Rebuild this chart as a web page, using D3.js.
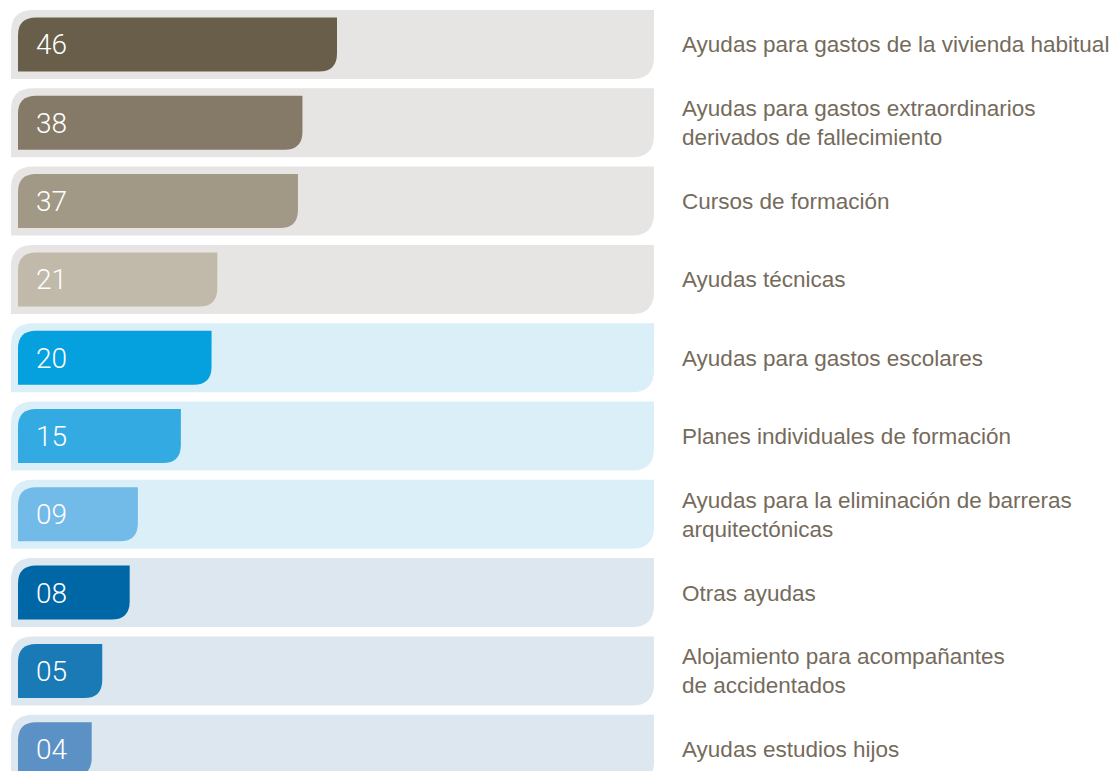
<!DOCTYPE html>
<html>
<head>
<meta charset="utf-8">
<script src="https://cdn.jsdelivr.net/npm/d3@7"></script>
<style>
  html, body { margin: 0; padding: 0; background: #fff; }
  svg { display: block; }
</style>
</head>
<body>
<div id="chart"></div>
<script>
const WIDTH = 1117;
const HEIGHT = 771;

// data
const categories = [
  'Ayudas para gastos de la vivienda habitual',
  'Ayudas para gastos extraordinarios\nderivados de fallecimiento',
  'Cursos de formación',
  'Ayudas técnicas',
  'Ayudas para gastos escolares',
  'Planes individuales de formación',
  'Ayudas para la eliminación de barreras\narquitectónicas',
  'Otras ayudas',
  'Alojamiento para acompañantes\nde accidentados',
  'Ayudas estudios hijos'
];
const values = [46, 38, 37, 21, 20, 15, 9, 8, 5, 4];
const valueLabels = ['46', '38', '37', '21', '20', '15', '09', '08', '05', '04'];
const barColors = ['#685e4a', '#857a68', '#a19886', '#c1b9aa', '#05a0de', '#33abe2', '#72bae8', '#0067a6', '#1a7ab6', '#5b91c4'];
const trackColors = ['#e7e5e3', '#e7e5e3', '#e7e5e3', '#e7e5e3', '#dbeff9', '#dbeff9', '#dbeff9', '#dce7f0', '#dce7f0', '#dce7f0'];

const TRACK_LEFT = 11;
const TRACK_RIGHT = 654;
const BAR_LEFT = 18;
const BAR_INSET = 7.5;
const TRACK_R = 22;
const BAR_R = 18;

const rows = categories.map((c, i) => ({
  category: c,
  value: values[i],
  label: valueLabels[i],
  bar: barColors[i],
  track: trackColors[i]
}));

const yScale = d3.scaleBand()
  .domain(categories)
  .range([10, 783.7])
  .paddingInner(0.119)
  .paddingOuter(0);

// bar lengths in the source are not proportional, a power scale follows them best
const xScale = d3.scalePow()
  .exponent(0.6)
  .domain([0, d3.max(values)])
  .range([0, 319]);

// rectangle with top-left and bottom-right corners rounded
const leafPath = (x, y, w, h, r) => {
  r = Math.min(r, w, h / 2);
  return `M${x},${y + r}`
    + `Q${x},${y} ${x + r},${y}`
    + `H${x + w}`
    + `V${y + h - r}`
    + `Q${x + w},${y + h} ${x + w - r},${y + h}`
    + `H${x}Z`;
};

const svg = d3.select('#chart').append('svg')
  .attr('width', WIDTH)
  .attr('height', HEIGHT);

const row = svg.append('g').attr('id', 'rows')
  .selectAll('g')
  .data(rows)
  .enter()
  .append('g')
  .attr('transform', d => `translate(0,${yScale(d.category)})`);

const bh = yScale.bandwidth();

row.append('path')
  .attr('d', () => leafPath(TRACK_LEFT, 0, TRACK_RIGHT - TRACK_LEFT, bh, TRACK_R))
  .attr('fill', d => d.track);

row.append('path')
  .attr('d', d => leafPath(BAR_LEFT, BAR_INSET, xScale(d.value), bh - 2 * BAR_INSET, BAR_R))
  .attr('fill', d => d.bar);

row.append('text')
  .text(d => d.label)
  .attr('x', 36)
  .attr('y', bh / 2 + 10)
  .attr('fill', '#fff')
  .style('font-family', 'Roboto, "Liberation Sans", Arial, sans-serif')
  .style('font-size', '28px')
  .style('font-weight', 300);

const name = row.append('text')
  .attr('fill', '#756b5c')
  .style('font-family', '"Liberation Sans", Arial, sans-serif')
  .style('font-size', '22.5px');

name.selectAll('tspan')
  .data(d => d.category.split('\n').map((t, i, arr) => ({ t, i, n: arr.length })))
  .enter()
  .append('tspan')
  .attr('x', 682)
  .attr('y', d => bh / 2 + 8 + (d.i - (d.n - 1) / 2) * 29)
  .text(d => d.t);
</script>
</body>
</html>
